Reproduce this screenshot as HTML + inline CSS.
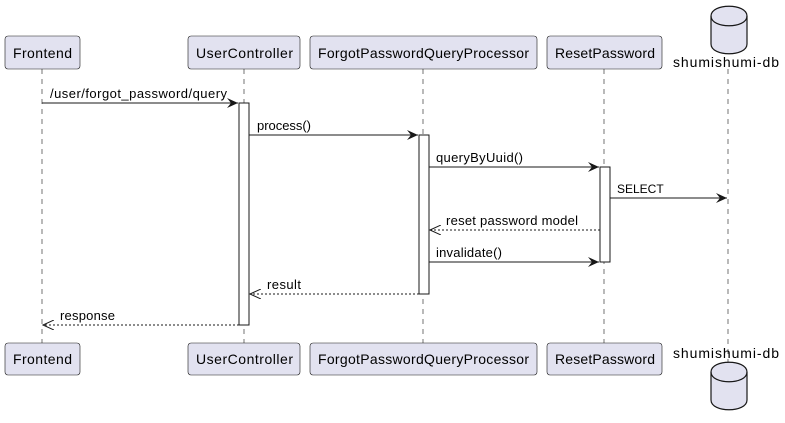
<!DOCTYPE html>
<html><head><meta charset="utf-8"><style>
html,body{margin:0;padding:0;background:#fff;width:785px;height:423px;overflow:hidden}
svg{display:block}
text{font-family:"Liberation Sans","DejaVu Sans",sans-serif;font-size:13px;fill:#000}
.t{font-size:14px}
</style></head><body>
<svg width="785" height="423" viewBox="0 0 785 423" xmlns="http://www.w3.org/2000/svg">
<defs>
<marker id="a" markerWidth="12" markerHeight="10" refX="11" refY="5" orient="auto" markerUnits="userSpaceOnUse">
<path d="M0,0 L11,5 L0,10 L4,5 Z" fill="#181818"/></marker>
<marker id="o" markerWidth="12" markerHeight="10" refX="11" refY="5" orient="auto" markerUnits="userSpaceOnUse">
<path d="M0,0 L11,5 L0,10" fill="none" stroke="#181818" stroke-width="1"/></marker>
</defs>
<g stroke="#181818" stroke-width="0.6" stroke-dasharray="5,5">
<line x1="42" y1="69" x2="42" y2="343"/>
<line x1="244" y1="69" x2="244" y2="343"/>
<line x1="423" y1="69" x2="423" y2="343"/>
<line x1="604" y1="69" x2="604" y2="343"/>
<line x1="728" y1="69" x2="728" y2="362"/>
</g>
<g fill="#E2E2F0" stroke="#181818" stroke-width="0.6">
<rect x="5" y="36" width="75" height="33" rx="3"/>
<rect x="188" y="36" width="112" height="33" rx="3"/>
<rect x="310" y="36" width="227" height="33" rx="3"/>
<rect x="547" y="36" width="115" height="33" rx="3"/>
<rect x="5" y="343" width="75" height="32" rx="3"/>
<rect x="188" y="343" width="112" height="32" rx="3"/>
<rect x="310" y="343" width="227" height="32" rx="3"/>
<rect x="547" y="343" width="115" height="32" rx="3"/>
</g>
<g fill="#E2E2F0" stroke="#181818" stroke-width="1.2">
<path d="M711,16 C711,3 747,3 747,16 L747,44 C747,57 711,57 711,44 Z"/>
<path d="M711,16 C711,29 747,29 747,16" fill="none"/>
<path d="M711,372 C711,359 747,359 747,372 L747,400 C747,413 711,413 711,400 Z"/>
<path d="M711,372 C711,385 747,385 747,372" fill="none"/>
</g>
<g class="t">
<text class="t" x="13" y="58" textLength="59">Frontend</text>
<text class="t" x="196" y="58" textLength="97">UserController</text>
<text class="t" x="318" y="58" textLength="211">ForgotPasswordQueryProcessor</text>
<text class="t" x="555" y="58" textLength="100">ResetPassword</text>
<text class="t" x="673" y="67" textLength="106">shumishumi-db</text>
<text class="t" x="13" y="364" textLength="59">Frontend</text>
<text class="t" x="196" y="364" textLength="97">UserController</text>
<text class="t" x="318" y="364" textLength="211">ForgotPasswordQueryProcessor</text>
<text class="t" x="555" y="364" textLength="100">ResetPassword</text>
<text class="t" x="673" y="358" textLength="106">shumishumi-db</text>
</g>
<g fill="#fff" stroke="#181818" stroke-width="1">
<rect x="239" y="103" width="10" height="222"/>
<rect x="419" y="135" width="10" height="159"/>
<rect x="600" y="167" width="10" height="95"/>
</g>
<g stroke="#181818" stroke-width="1" fill="none">
<line x1="42" y1="103" x2="238" y2="103" marker-end="url(#a)"/>
<line x1="249" y1="135" x2="418" y2="135" marker-end="url(#a)"/>
<line x1="429" y1="167" x2="599" y2="167" marker-end="url(#a)"/>
<line x1="610" y1="198" x2="727" y2="198" marker-end="url(#a)"/>
<line x1="600" y1="230" x2="430" y2="230" stroke-dasharray="2,2" marker-end="url(#o)"/>
<line x1="429" y1="262" x2="599" y2="262" marker-end="url(#a)"/>
<line x1="419" y1="294" x2="250" y2="294" stroke-dasharray="2,2" marker-end="url(#o)"/>
<line x1="239" y1="325" x2="43" y2="325" stroke-dasharray="2,2" marker-end="url(#o)"/>
</g>
<text x="50" y="98" textLength="177">/user/forgot_password/query</text>
<text x="257" y="130" textLength="54">process()</text>
<text x="436" y="162" textLength="87">queryByUuid()</text>
<text x="617" y="193" style="font-size:12px">SELECT</text>
<text x="446" y="225" textLength="132">reset password model</text>
<text x="436" y="257" textLength="66">invalidate()</text>
<text x="267" y="289" textLength="34">result</text>
<text x="60" y="320" textLength="55">response</text>
</svg>
</body></html>
